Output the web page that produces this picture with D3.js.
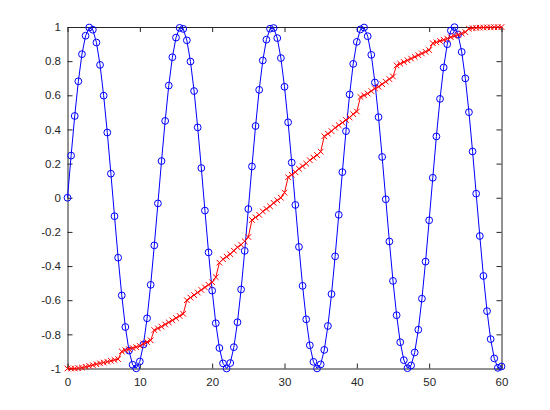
<!doctype html>
<html>
<head>
<meta charset="utf-8">
<style>
  body { margin: 0; background: #fff; }
</style>
</head>
<body>
<svg width="550" height="410" font-family="'Liberation Sans', Arial, sans-serif" font-size="11.5"></svg>
<script src="https://d3js.org/d3.v7.min.js"></script>
<script>
  // x positions shared by both series (0 to 60, every 0.5)
  let xs = d3.range(0, 121).map(i => i / 2);

  // blue series (circles)
  let blueVals = [
    0, 0.247, 0.479, 0.682, 0.841, 0.949, 0.997, 0.984, 0.909, 0.778, 0.598, 0.382, 0.141,
    -0.108, -0.351, -0.572, -0.757, -0.895, -0.978, -0.999, -0.959, -0.859, -0.706, -0.510, -0.279, -0.033,
    0.215, 0.450, 0.657, 0.823, 0.938, 0.995, 0.989, 0.922, 0.798, 0.625, 0.412, 0.174,
    -0.075, -0.320, -0.544, -0.735, -0.880, -0.970, -1.000, -0.968, -0.875, -0.729, -0.537, -0.311, -0.066,
    0.183, 0.420, 0.632, 0.804, 0.926, 0.990, 0.994, 0.935, 0.818, 0.650, 0.442, 0.206,
    -0.042, -0.288, -0.516, -0.712, -0.864, -0.961, -0.9996, -0.976, -0.891, -0.751, -0.564, -0.343, -0.100,
    0.150, 0.390, 0.605, 0.784, 0.913, 0.986, 0.997, 0.946, 0.837, 0.675, 0.472, 0.239,
    -0.009, -0.256, -0.487, -0.688, -0.846, -0.951, -0.998, -0.982, -0.906, -0.773, -0.591, -0.374, -0.132,
    0.117, 0.359, 0.579, 0.763, 0.899, 0.979, 0.999, 0.956, 0.854, 0.699, 0.501, 0.271, 0.024,
    -0.224, -0.458, -0.664, -0.828, -0.941, -0.996, -0.988
  ];

  // red series (x markers)
  let redVals = [
    -1.0, -1.0, -1.0, -0.998, -0.995,
    -0.99, -0.985, -0.98, -0.975, -0.97, -0.965, -0.96, -0.955, -0.95, -0.945,
    -0.90, -0.893, -0.887, -0.88, -0.875, -0.868, -0.855, -0.845, -0.835,
    -0.775, -0.765, -0.755, -0.742, -0.73, -0.718, -0.705, -0.692, -0.68,
    -0.60, -0.585, -0.57, -0.555, -0.54, -0.525, -0.51, -0.495, -0.465,
    -0.38, -0.36, -0.345, -0.33, -0.31, -0.29, -0.275, -0.255, -0.23,
    -0.13, -0.115, -0.10, -0.08, -0.065, -0.05, -0.03, -0.015, 0.0, 0.03,
    0.12, 0.135, 0.15, 0.17, 0.185, 0.20, 0.22, 0.235, 0.25, 0.27,
    0.36, 0.375, 0.39, 0.41, 0.425, 0.44, 0.455, 0.47, 0.49, 0.505,
    0.59, 0.60, 0.61, 0.625, 0.64, 0.65, 0.665, 0.68, 0.695, 0.71,
    0.775, 0.785, 0.795, 0.805, 0.815, 0.825, 0.835, 0.845, 0.855, 0.865,
    0.905, 0.91, 0.918, 0.925, 0.932, 0.94, 0.947, 0.955, 0.962, 0.97,
    0.99, 0.993, 0.995, 0.996, 0.997, 0.998, 0.998, 0.999, 0.999, 1.0
  ];

  let xTicks = [0, 10, 20, 30, 40, 50, 60];
  let yTicks = [-1, -0.8, -0.6, -0.4, -0.2, 0, 0.2, 0.4, 0.6, 0.8, 1];
  let yTickLabels = ["-1", "-0.8", "-0.6", "-0.4", "-0.2", "0", "0.2", "0.4", "0.6", "0.8", "1"];

  let svg = d3.select("svg"),
    plotLeft = 67.5, plotRight = 501.5, plotTop = 27, plotBottom = 368.5;

  let x = d3.scaleLinear().domain([0, 60]).range([plotLeft, plotRight]);
  let y = d3.scaleLinear().domain([-1, 1]).range([plotBottom, plotTop]);

  let axisColor = "#262626";

  // axes with inward ticks
  let gx = svg.append("g")
    .attr("transform", "translate(0," + plotBottom + ")")
    .call(d3.axisBottom(x).tickValues(xTicks).tickSizeInner(-5).tickSizeOuter(0).tickPadding(9));
  let gxTop = svg.append("g")
    .attr("transform", "translate(0," + plotTop + ")")
    .call(d3.axisTop(x).tickValues(xTicks).tickSizeInner(-5).tickSizeOuter(0).tickFormat(""));
  let gy = svg.append("g")
    .attr("transform", "translate(" + plotLeft + ",0)")
    .call(d3.axisLeft(y).tickValues(yTicks).tickSizeInner(-5).tickSizeOuter(0).tickPadding(6.5)
      .tickFormat((d, i) => yTickLabels[i]));
  let gyRight = svg.append("g")
    .attr("transform", "translate(" + plotRight + ",0)")
    .call(d3.axisRight(y).tickValues(yTicks).tickSizeInner(-5).tickSizeOuter(0).tickFormat(""));

  [gx, gxTop, gy, gyRight].forEach(g => {
    g.attr("font-family", null).attr("font-size", null);
    g.select(".domain").attr("stroke", axisColor);
    g.selectAll(".tick line").attr("stroke", axisColor);
    g.selectAll(".tick text").attr("fill", axisColor);
  });

  let pts = xs.map((d, i) => ({x: d, b: blueVals[i], r: redVals[i]}));

  // blue line + circles
  svg.append("path")
    .datum(pts)
    .attr("fill", "none")
    .attr("stroke", "#0000ff")
    .attr("stroke-width", 1)
    .attr("d", d3.line().x(d => x(d.x)).y(d => y(d.b)));

  svg.append("g").selectAll("circle")
    .data(pts)
    .enter().append("circle")
    .attr("cx", d => x(d.x))
    .attr("cy", d => y(d.b))
    .attr("r", 3.4)
    .attr("fill", "none")
    .attr("stroke", "#0000ff")
    .attr("stroke-width", 1);

  // red line + x markers
  svg.append("path")
    .datum(pts)
    .attr("fill", "none")
    .attr("stroke", "#ff0000")
    .attr("stroke-width", 1)
    .attr("d", d3.line().x(d => x(d.x)).y(d => y(d.r)));

  let s = 2.8;
  svg.append("g").selectAll("path")
    .data(pts)
    .enter().append("path")
    .attr("fill", "none")
    .attr("stroke", "#ff0000")
    .attr("stroke-width", 1)
    .attr("d", d => {
      let cx = x(d.x), cy = y(d.r);
      return "M" + (cx - s) + "," + (cy - s) + "L" + (cx + s) + "," + (cy + s) +
        "M" + (cx - s) + "," + (cy + s) + "L" + (cx + s) + "," + (cy - s);
    });
</script>
</body>
</html>
